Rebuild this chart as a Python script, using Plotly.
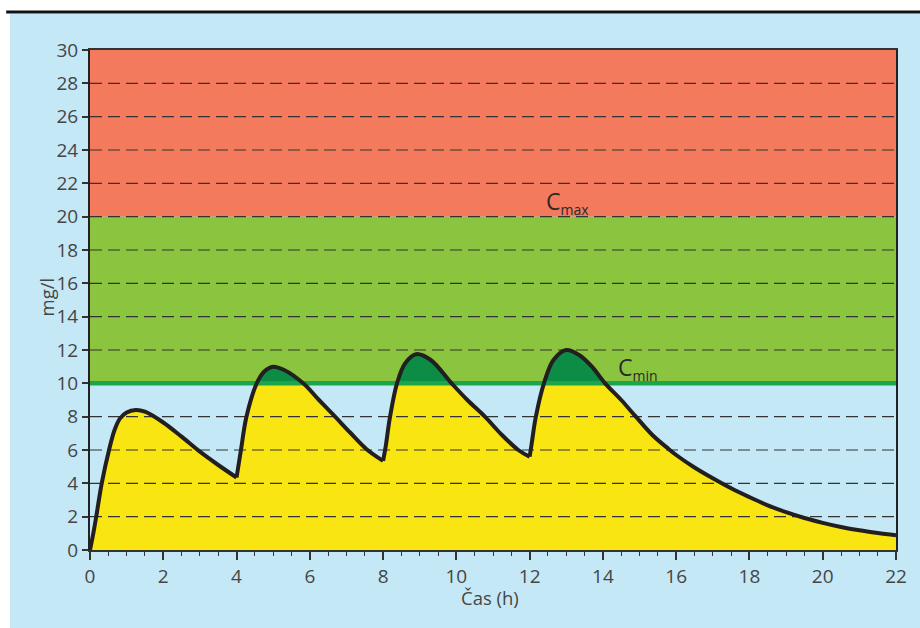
import plotly.graph_objects as go

# ---- data ----
DOSE_TIMES = [0, 4, 8, 12]
X_END = 22
time_h = [0, 0.09, 0.17, 0.32, 0.52, 0.67, 0.82, 1.0, 1.25, 1.5, 2.0, 2.5, 3.0, 3.5, 4.0,
          4.12, 4.27, 4.55, 4.75, 5.0, 5.3, 5.82, 6.25, 6.69, 7.1, 7.55, 8.0,
          8.07, 8.19, 8.38, 8.6, 8.9, 9.3, 9.87, 10.3, 10.78, 11.2, 11.69, 12.0,
          12.05, 12.17, 12.39, 12.65, 13.0, 13.35, 13.7, 14.06, 14.5, 14.9, 15.35, 15.8,
          16.0, 16.5, 17.0, 17.5, 18.0, 18.5, 19.0, 19.5, 20.0, 20.5, 21.0, 21.5, 22.0]
conc = [0, 1.0, 2.0, 4.0, 6.0, 7.2, 7.9, 8.25, 8.4, 8.3, 7.65, 6.8, 5.9, 5.1, 4.35,
        6.0, 8.0, 10.0, 10.7, 11.0, 10.8, 10.0, 9.0, 8.0, 7.05, 6.05, 5.35,
        6.2, 8.0, 10.0, 11.2, 11.75, 11.4, 10.0, 9.0, 8.0, 7.0, 6.0, 5.6,
        6.3, 8.0, 10.0, 11.4, 12.0, 11.7, 11.0, 10.0, 9.0, 8.0, 6.9, 6.05,
        5.7, 4.95, 4.3, 3.7, 3.17, 2.68, 2.27, 1.92, 1.63, 1.38, 1.18, 1.02, 0.88]
C_MIN = 10
C_MAX = 20
Y_TOP = 30
y_ticks = list(range(0, 31, 2))
x_ticks = list(range(0, 23, 2))
grid_vals = [v for v in y_ticks if v not in (0, C_MIN, Y_TOP)]

# colours
PANEL = "#C5E8F7"
RED = "#F47A5D"
GREEN = "#8BC43F"
YELLOW = "#F9E512"
DKGREEN = "#0C8C45"
LINEGREEN = "#1CA64B"
CURVE = "#231F20"
TXT = "#454545"
FONT = "Open Sans"
SMOOTH = 1.0

fig = go.Figure()

# split into dosing intervals
bounds = DOSE_TIMES + [X_END]
segments = []
fill_segments = []
for i in range(len(DOSE_TIMES)):
    a, b = bounds[i], bounds[i + 1]
    idx = [k for k, t in enumerate(time_h) if a <= t <= b]
    segments.append(([time_h[k] for k in idx], [conc[k] for k in idx]))
    # fill segment overlaps the next one by one reading to hide seams
    idx_f = idx + ([idx[-1] + 1] if idx[-1] + 1 < len(time_h) else [])
    fill_segments.append(([time_h[k] for k in idx_f], [conc[k] for k in idx_f]))

# yellow area under curve
for xs, ys in fill_segments:
    fig.add_trace(go.Scatter(x=xs, y=ys, mode="lines", fill="tozeroy",
                             fillcolor=YELLOW,
                             line=dict(width=0, color=YELLOW, shape="spline", smoothing=SMOOTH),
                             hoverinfo="skip", showlegend=False))

# dark green area above C_MIN
for xs, ys in segments:
    sx = [t for t, c in zip(xs, ys) if c >= C_MIN]
    sy = [c for c in ys if c >= C_MIN]
    if len(sx) > 2:
        fig.add_trace(go.Scatter(x=sx, y=sy, mode="lines", fill="toself",
                                 fillcolor=DKGREEN,
                                 line=dict(width=0, color=DKGREEN, shape="spline", smoothing=SMOOTH),
                                 hoverinfo="skip", showlegend=False))

# dashed gridlines
gx, gy = [], []
for v in grid_vals:
    gx += [0, X_END, None]
    gy += [v, v, None]
fig.add_trace(go.Scatter(x=gx, y=gy, mode="lines",
                         line=dict(color="#333333", width=1.2, dash="12px,6px"),
                         hoverinfo="skip", showlegend=False))

# C_MIN line
fig.add_trace(go.Scatter(x=[0, X_END], y=[C_MIN, C_MIN], mode="lines",
                         line=dict(color=LINEGREEN, width=4.5),
                         hoverinfo="skip", showlegend=False))

# concentration curve
for xs, ys in segments:
    fig.add_trace(go.Scatter(x=xs, y=ys, mode="lines",
                             line=dict(color=CURVE, width=4, shape="spline", smoothing=SMOOTH),
                             hoverinfo="skip", showlegend=False))

shapes = [
    dict(type="rect", xref="paper", yref="paper", x0=-0.0993, x1=1.04, y0=-0.2, y1=1.072,
         fillcolor=PANEL, line=dict(width=0), layer="below"),
    dict(type="line", xref="paper", yref="paper", x0=-0.104, x1=1.04, y0=1.076, y1=1.076,
         line=dict(color="#111111", width=3), layer="below"),
    dict(type="rect", xref="x", yref="y", x0=0, x1=X_END, y0=C_MAX, y1=Y_TOP,
         fillcolor=RED, line=dict(width=0), layer="below"),
    dict(type="rect", xref="x", yref="y", x0=0, x1=X_END, y0=C_MIN, y1=C_MAX,
         fillcolor=GREEN, line=dict(width=0), layer="below"),
]

annotations = [
    dict(x=12.4, y=20.9, xref="x", yref="y", xanchor="left", yanchor="middle", showarrow=False,
         text="C<sub><span style='font-size:14px'>max</span></sub>",
         font=dict(family=FONT, size=23, color="#2a2a2a")),
    dict(x=14.35, y=10.9, xref="x", yref="y", xanchor="left", yanchor="middle", showarrow=False,
         text="C<sub><span style='font-size:14px'>min</span></sub>",
         font=dict(family=FONT, size=23, color="#2a2a2a")),
    dict(x=-0.054, y=0.506, xref="paper", yref="paper", xanchor="center", yanchor="middle",
         showarrow=False, textangle=-90, text="mg/l", font=dict(family=FONT, size=18.5, color=TXT)),
    dict(x=0.496, y=-0.094, xref="paper", yref="paper", xanchor="center", yanchor="middle",
         showarrow=False, text="Čas (h)", font=dict(family=FONT, size=18.5, color=TXT)),
]

fig.update_layout(
    width=920, height=628,
    margin=dict(l=90, r=24, t=50, b=78),
    paper_bgcolor="white",
    plot_bgcolor=PANEL,
    shapes=shapes,
    annotations=annotations,
    font=dict(family=FONT, size=19, color=TXT),
    xaxis=dict(range=[0, X_END], tickvals=x_ticks, ticks="outside", ticklen=8, tickwidth=1.5,
               tickcolor="#333333", showgrid=False, zeroline=False,
               showline=True, linecolor="#333333", linewidth=2, mirror=True,
               minor=dict(dtick=0.5, ticks="outside", ticklen=4, tickwidth=1.2,
                          tickcolor="#333333", showgrid=False),
               tickfont=dict(family=FONT, size=19, color=TXT)),
    yaxis=dict(range=[0, Y_TOP], tickvals=y_ticks, ticks="outside", ticklen=6, tickwidth=1.5,
               tickcolor="#333333", showgrid=False, zeroline=False,
               showline=True, linecolor="#222222", linewidth=2, mirror=True,
               tickfont=dict(family=FONT, size=19, color=TXT)),
)

fig.write_html("out.html", config={"displayModeBar": False},
               post_script="document.body.style.margin='0px';document.body.style.overflow='hidden';")
